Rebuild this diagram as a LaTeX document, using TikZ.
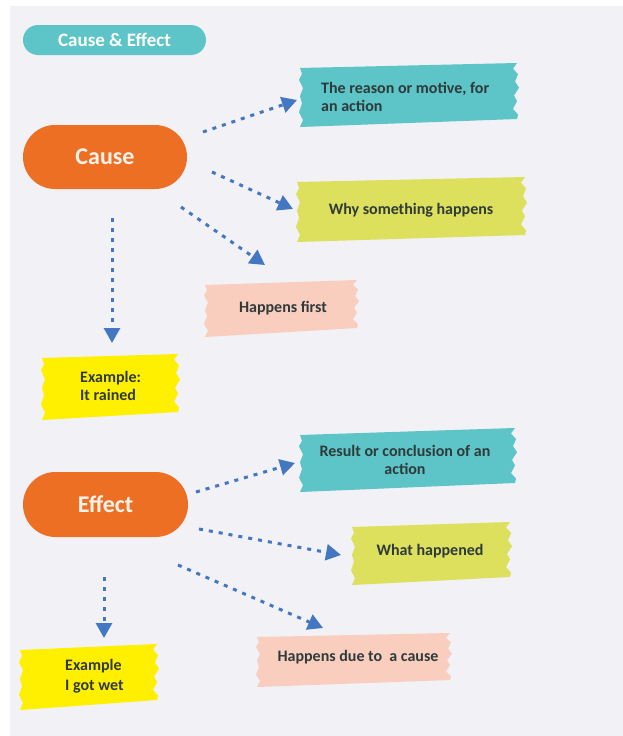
\documentclass[tikz,border=0pt]{standalone}
\usepackage{fontspec}
\setmainfont{Carlito}
\usetikzlibrary{arrows.meta,shapes.misc}
\definecolor{bgc}{HTML}{F1F1F6}
\definecolor{tealc}{HTML}{5DC4C7}
\definecolor{orangec}{HTML}{EC6F24}
\definecolor{ygc}{HTML}{DCE05C}
\definecolor{peachc}{HTML}{F9CEBF}
\definecolor{yellowc}{HTML}{FFF000}
\definecolor{arrowc}{HTML}{4477C2}
\definecolor{textc}{HTML}{2F3A3A}
\definecolor{pilltext}{HTML}{FBF3EA}
% torn paper strip: color, left x, right x, top-left y, top-right y, bottom-left y, bottom-right y
\newcommand{\tornstrip}[7]{%
  \fill[#1] ({#2},{#4}) -- ({#3},{#5})
    -- ({#3-4},{#5+0.10*(#7-#5)})
    -- ({#3+1},{#5+0.20*(#7-#5)})
    -- ({#3-2},{#5+0.33*(#7-#5)})
    -- ({#3+2},{#5+0.44*(#7-#5)})
    -- ({#3-3},{#5+0.58*(#7-#5)})
    -- ({#3},{#5+0.68*(#7-#5)})
    -- ({#3-4},{#5+0.82*(#7-#5)})
    -- ({#3+1},{#5+0.92*(#7-#5)})
    -- ({#3},{#7}) -- ({#2},{#6})
    -- ({#2+3},{#6+0.12*(#4-#6)})
    -- ({#2-1},{#6+0.25*(#4-#6)})
    -- ({#2+2},{#6+0.40*(#4-#6)})
    -- ({#2},{#6+0.52*(#4-#6)})
    -- ({#2+3},{#6+0.66*(#4-#6)})
    -- ({#2-1},{#6+0.80*(#4-#6)})
    -- ({#2+2},{#6+0.90*(#4-#6)})
    -- cycle;}
\tikzset{
  pill/.style={rounded rectangle, fill=orangec, text=pilltext, inner sep=0pt,
    font=\fontsize{24}{28}\selectfont\bfseries, minimum width=164pt, minimum height=64pt},
  titlepill/.style={rounded rectangle, fill=tealc, text=white, inner sep=0pt,
    font=\fontsize{19}{22}\selectfont\bfseries, minimum width=183pt, minimum height=30pt},
  lbl/.style={font=\fontsize{16}{18.5}\selectfont\bfseries, text=textc, inner sep=0pt},
  arr/.style={draw=arrowc, line width=3pt, dash pattern=on 4pt off 6pt,
    -{Triangle[length=15pt,width=16pt,fill=arrowc]}}
}
\begin{document}
\begin{tikzpicture}[x=1pt,y=-1pt]
\useasboundingbox (0,0) rectangle (623,736);
\fill[white] (0,0) rectangle (623,736);
\fill[bgc] (10,6) rectangle (623,736);

% torn strips
\tornstrip{tealc}{300}{517}{68}{63}{127}{119}
\tornstrip{ygc}{297}{525}{182}{177}{242}{235}
\tornstrip{peachc}{205}{357}{285}{280}{337}{328}
\tornstrip{yellowc}{42}{178}{358}{354}{420}{412}
\tornstrip{tealc}{300}{515}{435}{428}{492}{483}
\tornstrip{ygc}{352}{510}{527}{522}{585}{577}
\tornstrip{peachc}{257}{450}{637}{633}{687}{680}
\tornstrip{yellowc}{20}{157}{650}{644}{710}{700}

% pills
\node[titlepill] (title) at (114.5,40) {Cause \& Effect};
\node[pill] (cause) at (105,157) {Cause};
\node[pill, minimum width=165pt, minimum height=65pt] (effect) at (105.5,504.5) {Effect};

% labels
\node[lbl, align=left, anchor=west] (reason) at (321,97) {The reason or motive, for\\an action};
\node[lbl] (why) at (411,210.5) {Why something happens};
\node[lbl] (first) at (283,308.5) {Happens first};
\node[lbl, align=left, anchor=west] (ex1) at (80,386) {Example:\\It rained};
\node[lbl, align=center] (result) at (405,460) {Result or conclusion of an\\action};
\node[lbl] (what) at (430,551.5) {What happened};
\node[lbl] (due) at (358,657.5) {Happens due to\ \ a cause};
\node[lbl, align=left, anchor=west, font=\fontsize{16}{20}\selectfont\bfseries] (ex2) at (65,676.5) {Example\\I got wet};

% connector end points
\coordinate (c1s) at (203,132); \coordinate (c1e) at (297,100);
\coordinate (c2s) at (212,172); \coordinate (c2e) at (293,209);
\coordinate (c3s) at (181,207); \coordinate (c3e) at (265,265);
\coordinate (c4s) at (112,218); \coordinate (c4e) at (112,343);
\coordinate (e1s) at (196,492); \coordinate (e1e) at (295,463);
\coordinate (e2s) at (199,529); \coordinate (e2e) at (341,555);
\coordinate (e3s) at (178,565); \coordinate (e3e) at (323,628);
\coordinate (e4s) at (104,577); \coordinate (e4e) at (104,638);

\draw[arr] (c1s) -- (c1e);
\draw[arr] (c2s) -- (c2e);
\draw[arr] (c3s) -- (c3e);
\draw[arr] (c4s) -- (c4e);
\draw[arr] (e1s) -- (e1e);
\draw[arr] (e2s) -- (e2e);
\draw[arr] (e3s) -- (e3e);
\draw[arr] (e4s) -- (e4e);
\end{tikzpicture}
\end{document}
